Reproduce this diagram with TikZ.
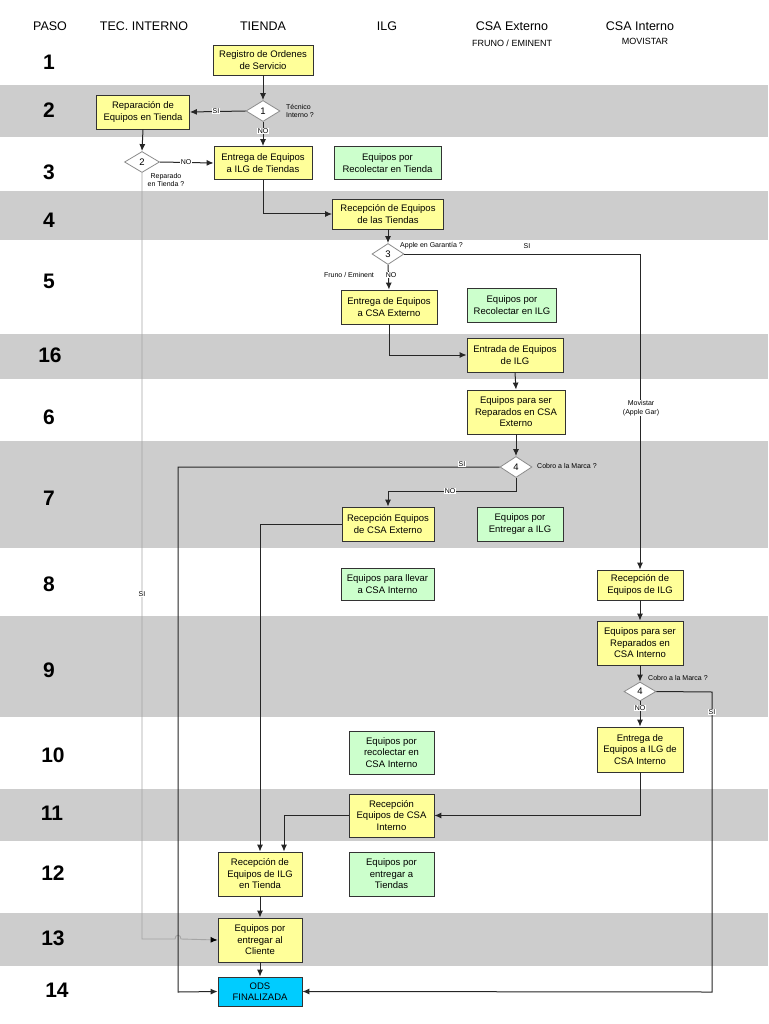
\documentclass[tikz,border=0pt]{standalone}
\usepackage{fontspec}
\setmainfont{Liberation Sans}
\usetikzlibrary{shapes.geometric,arrows.meta}
\definecolor{band}{RGB}{205,205,205}
\definecolor{yel}{RGB}{255,255,153}
\definecolor{grn}{RGB}{204,255,204}
\definecolor{cyn}{RGB}{0,204,255}
\definecolor{dgray}{RGB}{140,140,140}
\definecolor{lgray}{RGB}{165,165,165}
\begin{document}
\begin{tikzpicture}[x=1pt,y=-1pt,
  box/.style={draw=black!80, line width=0.8pt, fill=yel, align=center, inner sep=1pt, font=\fontsize{9.5}{11.5}\selectfont},
  gbox/.style={box, fill=grn},
  dec/.style={diamond, draw=dgray, fill=white, line width=0.8pt, inner sep=0pt, font=\fontsize{9.5}{11}\selectfont},
  conn/.style={draw=black!85, line width=1pt},
  arr/.style={conn, -{Latex[length=7pt,width=6pt]}},
  lab/.style={fill=white, inner sep=0.6pt, font=\fontsize{7}{8}\selectfont},
  note/.style={inner sep=0pt, font=\fontsize{7}{8.5}\selectfont, align=center},
  hdr/.style={font=\fontsize{12.5}{14}\selectfont},
  sub/.style={font=\fontsize{9}{10}\selectfont},
  stepn/.style={font=\fontsize{21}{24}\bfseries\selectfont}]
\useasboundingbox (0,0) rectangle (768,1024);
\fill[white] (0,0) rectangle (768,1024);
% bands
\fill[band] (0,85) rectangle (768,137);
\fill[band] (0,191) rectangle (768,240);
\fill[band] (0,334) rectangle (768,379);
\fill[band] (0,441) rectangle (768,548);
\fill[band] (0,616) rectangle (768,717);
\fill[band] (0,789) rectangle (768,841);
\fill[band] (0,913) rectangle (768,966);
% headers
\node[hdr] (hP) at (50,26) {PASO};
\node[hdr] (hT) at (144,26) {TEC. INTERNO};
\node[hdr] (hTi) at (263,26) {TIENDA};
\node[hdr] (hI) at (387,26) {ILG};
\node[hdr] (hE) at (512,26) {CSA Externo};
\node[hdr] (hCI) at (640,26) {CSA Interno};
\node[sub] (sE) at (512,43) {FRUNO / EMINENT};
\node[sub] (sI) at (645,41) {MOVISTAR};
% step numbers
\node[stepn] (p1) at (49,62) {1};
\node[stepn] (p2) at (49,110) {2};
\node[stepn] (p3) at (49,172) {3};
\node[stepn] (p4) at (49,220) {4};
\node[stepn] (p5) at (49,281) {5};
\node[stepn] (p16) at (50,355) {16};
\node[stepn] (p6) at (49,417) {6};
\node[stepn] (p7) at (49,498) {7};
\node[stepn] (p8) at (49,584) {8};
\node[stepn] (p9) at (49,670) {9};
\node[stepn] (p10) at (53,755) {10};
\node[stepn] (p11) at (52,813) {11};
\node[stepn] (p12) at (53,873) {12};
\node[stepn] (p13) at (53,938) {13};
\node[stepn] (p14) at (57,990) {14};
% nodes
\node[box, minimum width=100pt, minimum height=30pt] (n1) at (263,60) {Registro de Ordenes\\de Servicio};
\node[dec, minimum width=34pt, minimum height=21pt] (d1) at (263,111) {1};
\node[box, minimum width=93pt, minimum height=34pt] (rep) at (143,112) {Reparación de\\Equipos en Tienda};
\node[box, minimum width=98pt, minimum height=33pt] (ent) at (263,163) {Entrega de Equipos\\a ILG de Tiendas};
\node[dec, minimum width=35pt, minimum height=21pt] (d2) at (142,162) {2};
\node[gbox, minimum width=107pt, minimum height=33pt] (gRT) at (387.5,163) {Equipos por\\Recolectar en Tienda};
\node[box, minimum width=111pt, minimum height=30pt] (recT) at (388,214) {Recepción de Equipos\\de las Tiendas};
\node[dec, minimum width=32pt, minimum height=21pt] (d3) at (388,254) {3};
\node[box, minimum width=96pt, minimum height=34pt] (entCSA) at (389,307) {Entrega de Equipos\\a CSA Externo};
\node[gbox, minimum width=89pt, minimum height=34pt] (gRI) at (512,305) {Equipos por\\Recolectar en ILG};
\node[box, minimum width=96pt, minimum height=34pt] (entrada) at (515,355) {Entrada de Equipos\\de ILG};
\node[box, minimum width=98pt, minimum height=44pt] (parE) at (516,412) {Equipos para ser\\Reparados en CSA\\Externo};
\node[dec, minimum width=32pt, minimum height=21pt] (d4) at (516,467) {4};
\node[box, minimum width=92pt, minimum height=34pt] (recCE) at (388,524) {Recepción Equipos\\de CSA Externo};
\node[gbox, minimum width=86pt, minimum height=34pt] (gEI) at (520,524) {Equipos por\\Entregar a ILG};
\node[gbox, minimum width=93pt, minimum height=32pt] (gLl) at (387.5,584) {Equipos para llevar\\a CSA Interno};
\node[box, minimum width=86pt, minimum height=30pt] (recILG) at (640,585) {Recepción de\\Equipos de ILG};
\node[box, minimum width=86pt, minimum height=44pt] (parI) at (640,643) {Equipos para ser\\Reparados en\\CSA Interno};
\node[dec, minimum width=32pt, minimum height=19pt] (d5) at (640,691.5) {4};
\node[box, minimum width=86pt, minimum height=45pt] (entI) at (640,749.5) {Entrega de\\Equipos a ILG de\\CSA Interno};
\node[gbox, minimum width=85pt, minimum height=43pt] (gRCI) at (391.5,752.5) {Equipos por\\recolectar en\\CSA Interno};
\node[box, minimum width=85pt, minimum height=43pt] (recCI) at (391.5,815.5) {Recepción\\Equipos de CSA\\Interno};
\node[box, minimum width=84pt, minimum height=44pt] (recT2) at (260,874) {Recepción de\\Equipos de ILG\\en Tienda};
\node[gbox, minimum width=85pt, minimum height=44pt] (gET) at (391.5,874) {Equipos por\\entregar a\\Tiendas};
\node[box, minimum width=84pt, minimum height=44pt] (cli) at (260,940) {Equipos por\\entregar al\\Cliente};
\node[box, fill=cyn, minimum width=84pt, minimum height=29pt] (ods) at (260,991.5) {ODS\\FINALIZADA};
% helper coordinates
\coordinate (c2) at (142,939);
\coordinate (h1) at (175,939);
\coordinate (h2) at (181,939);
\coordinate (k4) at (178,467);
\coordinate (k4b) at (178,992);
\coordinate (k5) at (712,692);
\coordinate (k5b) at (712,992);
\coordinate (nod4) at (516,491);
% connectors
\draw[draw=lgray, line width=0.9pt, -{Latex[length=7pt,width=6pt,color=black]}] (d2.south) -- (c2) -- (h1) .. controls (175,934) and (181,934) .. (h2) -- (cli.west);
\node[lab] (lsi2) at (142,594) {SI};
\draw[arr] (n1.south) -- (d1.north);
\draw[arr] (d1.west) -- (rep.east);
\node[lab] (lsi1) at (216,111) {SI};
\draw[arr] (d1.south) -- (ent.north);
\node[lab] (lno1) at (263,131) {NO};
\draw[arr] (rep.south) -- (d2.north);
\draw[arr] (d2.east) -- (ent.west);
\node[lab] (lno2) at (186,162) {NO};
\draw[arr] (ent.south) |- (recT.west);
\draw[arr] (recT.south) -- (d3.north);
\draw[arr] (d3.east) -| (recILG.north);
\draw[arr] (d3.south) -- (entCSA.north);
\node[lab] (lno3) at (391,275) {NO};
\draw[arr] (entCSA.south) |- (entrada.west);
\draw[arr] (entrada.south) -- (parE.north);
\draw[arr] (parE.south) -- (d4.north);
\draw[arr] (d4.west) -- (k4) -- (k4b) -- (ods.west);
\node[lab] (lsi4) at (462,464) {SI};
\draw[arr] (d4.south) -- (nod4) -| (recCE.north);
\node[lab] (lno4) at (450,491) {NO};
\draw[arr] (recCE.west) -| (recT2.north);
\draw[arr] (recILG.south) -- (parI.north);
\draw[arr] (parI.south) -- (d5.north);
\draw[arr] (d5.east) -- (k5) -- (k5b) -- (ods.east);
\node[lab] (lsi5) at (712,712) {SI};
\draw[arr] (d5.south) -- (entI.north);
\node[lab] (lno5) at (640,708) {NO};
\draw[arr] (entI.south) |- (recCI.east);
\draw[arr] (recCI.west) -| ([xshift=24pt]recT2.north);
\draw[arr] (recT2.south) -- (cli.north);
\draw[arr] (cli.south) -- (ods.north);
% notes
\node[note, align=left, anchor=west] (t1) at (286,111) {Técnico\\Interno ?};
\node[note] (t2) at (166,180) {Reparado\\en Tienda ?};
\node[note, anchor=west] (t3) at (400,246) {Apple en Garantía ?};
\node[note] (t3b) at (527,246) {SI};
\node[note] (t3c) at (349,275) {Fruno / Eminent};
\node[lab, align=center, font=\fontsize{7}{9}\selectfont] (t3d) at (641,408) {Movistar\\(Apple Gar)};
\node[note, anchor=west] (t4) at (537,466) {Cobro a la Marca ?};
\node[note, anchor=west] (t5) at (648,678) {Cobro a la Marca ?};
\end{tikzpicture}
\end{document}
